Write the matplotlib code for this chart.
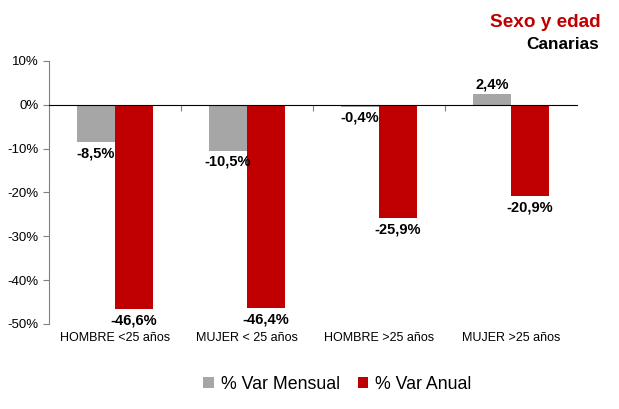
import matplotlib.pyplot as plt
import matplotlib.transforms as mtransforms
import numpy as np

plt.rcParams['font.family'] = ['Liberation Sans', 'DejaVu Sans']

categorias = ["HOMBRE <25 años", "MUJER < 25 años", "HOMBRE >25 años", "MUJER >25 años"]
var_mensual = [-8.5, -10.5, -0.4, 2.4]
var_anual = [-46.6, -46.4, -25.9, -20.9]

gris = "#a6a6a6"
rojo = "#c00000"

fig = plt.figure(figsize=(6.19, 4.09), dpi=100)
ax = fig.add_axes([0.079, 0.208, 0.853, 0.643])

x = np.arange(len(categorias))
w = 0.29
b1 = ax.bar(x - w / 2, var_mensual, w, color=gris, label="% Var Mensual")
b2 = ax.bar(x + w / 2, var_anual, w, color=rojo, label="% Var Anual")

def etiqueta(v):
    return f"{v:.1f}%".replace(".", ",")

for barras, vals in [(b1, var_mensual), (b2, var_anual)]:
    for r, v in zip(barras, vals):
        cx = r.get_x() + r.get_width() / 2
        if v >= 0:
            ax.annotate(etiqueta(v), (cx, v), xytext=(0, 2), textcoords="offset points",
                        ha="center", va="bottom", fontsize=10.5, fontweight="bold")
        else:
            ax.annotate(etiqueta(v), (cx, v), xytext=(0, -3), textcoords="offset points",
                        ha="center", va="top", fontsize=10.5, fontweight="bold")

ax.set_xlim(-0.5, len(categorias) - 0.5)
ax.set_ylim(-50, 10)
ax.set_yticks(np.arange(-50, 11, 10))
ax.set_yticklabels([f"{t}%" for t in range(-50, 11, 10)], fontsize=9.5)
ax.tick_params(axis="y", direction="out", length=4, color="#808080")

for s in ["top", "right"]:
    ax.spines[s].set_visible(False)
ax.spines["left"].set_color("#808080")
ax.spines["bottom"].set_position(("data", 0))
ax.spines["bottom"].set_color("black")
ax.set_xticks(x[:-1] + 0.5)
ax.set_xticklabels([])
ax.tick_params(axis="x", direction="out", length=4, color="#808080")

trans = mtransforms.blended_transform_factory(ax.transData, ax.transAxes)
for xi, c in zip(x, categorias):
    ax.text(xi, -0.03, c, transform=trans, ha="center", va="top", fontsize=9)

fig.text(0.97, 0.944, "Sexo y edad", color=rojo, fontsize=13.7, fontweight="bold", ha="right", va="center")
fig.text(0.968, 0.892, "Canarias", color="black", fontsize=12.4, fontweight="bold", ha="right", va="center")

fig.legend(handles=[b1, b2], loc="center", bbox_to_anchor=(0.545, 0.06), ncol=2, frameon=False,
           fontsize=12.8, handlelength=0.6, handleheight=0.6, columnspacing=1.0, handletextpad=0.4)

fig.savefig("out.png", dpi=100)
